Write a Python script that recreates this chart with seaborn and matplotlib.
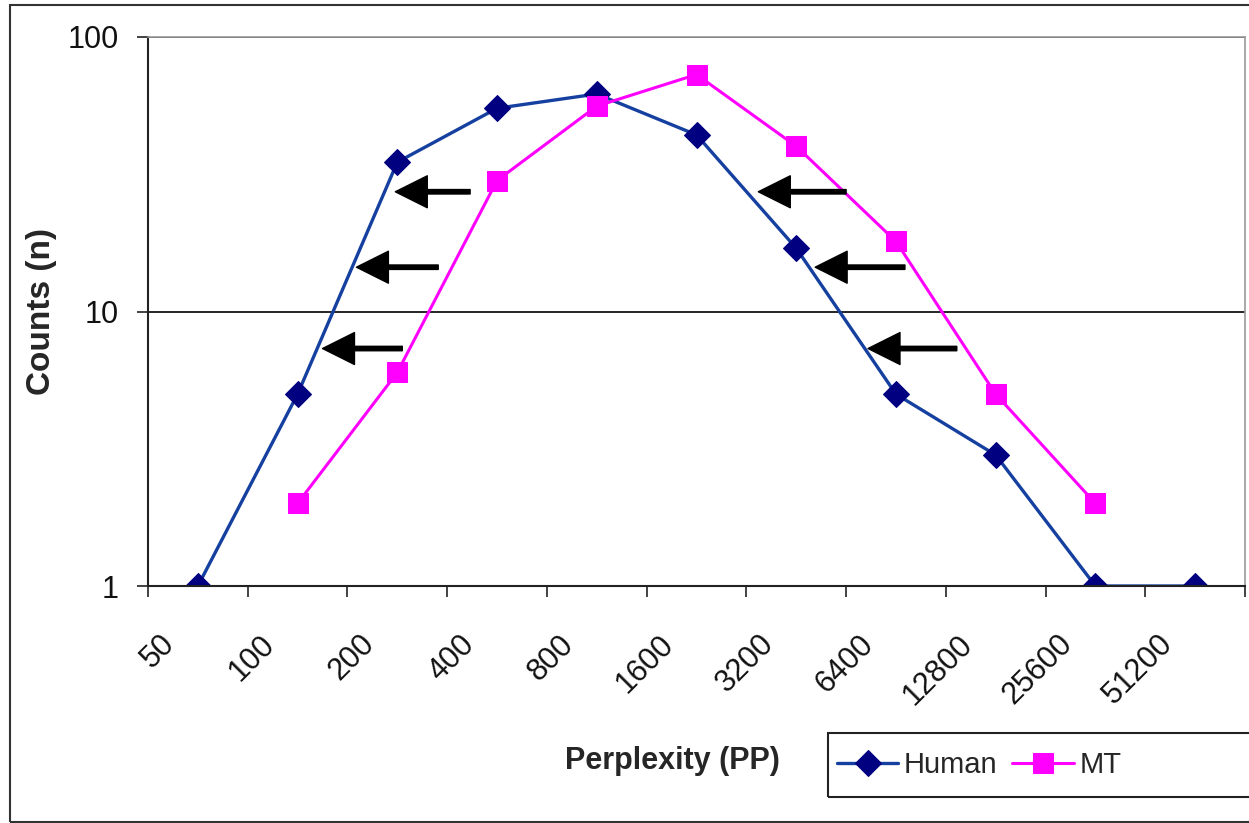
import numpy as np
import pandas as pd
import matplotlib
matplotlib.use("Agg")
import matplotlib.pyplot as plt
from matplotlib.patches import Rectangle
from matplotlib.transforms import ScaledTranslation
import seaborn as sns

# perplexity bins (category labels) and counts per bin
pp_labels = ["50", "100", "200", "400", "800", "1600", "3200",
             "6400", "12800", "25600", "51200"]
human_counts = [1, 5, 35, 55, 62, 44, 17, 5, 3, 1, 1]
mt_counts = [None, 2, 6, 30, 56, 73, 40, 18, 5, 2, None]

# arrows showing the shift (tail category, tip category, count level)
arrow_tails = [2.73, 2.41, 2.05, 6.50, 7.09, 7.61]
arrow_tips = [1.98, 1.59, 1.25, 5.62, 6.19, 6.72]
arrow_levels = [27.3, 14.5, 7.33, 27.3, 14.5, 7.33]

sns.set_style("white")
plt.rcParams["font.family"] = ["Liberation Sans", "DejaVu Sans"]

pos = np.arange(len(pp_labels))
df = pd.DataFrame({"pos": pos, "Human": human_counts, "MT": mt_counts})

fig = plt.figure(figsize=(12.49, 8.23), dpi=100)
ax = fig.add_axes([148 / 1249, 1 - 586 / 823, 1097 / 1249, 549 / 823])

sns.lineplot(data=df, x="pos", y="Human", ax=ax, color="#1540a0",
             marker="D", markersize=13, markerfacecolor="#000080",
             markeredgecolor="#000080", linewidth=2.4, label="Human")
mt = df.dropna(subset=["MT"])
sns.lineplot(data=mt, x="pos", y="MT", ax=ax, color="#FF00FF",
             marker="s", markersize=15, markeredgecolor="#FF00FF",
             linewidth=2.2, label="MT")

for t0, t1, lv in zip(arrow_tails, arrow_tips, arrow_levels):
    ax.annotate("", xy=(t1, lv), xytext=(t0, lv),
                arrowprops=dict(facecolor="black", edgecolor="black",
                                width=3.2, headwidth=23, headlength=23,
                                shrink=0))

ax.set_yscale("log")
ax.set_ylim(1, 100)
ax.set_yticks([1, 10, 100])
ax.set_yticklabels(["1", "10", "100"])
ax.yaxis.set_minor_locator(matplotlib.ticker.NullLocator())
ax.set_xlim(-0.5, len(pp_labels) - 0.5)
ax.set_xticks(pos)
ax.set_xticklabels(pp_labels, rotation=45, ha="right")
ax.set_xticks(np.arange(-0.5, len(pp_labels)), minor=True)

ax.grid(axis="y", which="major", color="black", linewidth=1.2)
ax.tick_params(axis="x", which="major", length=0, pad=31, labelsize=22,
               labelcolor="#111111")
ax.tick_params(axis="x", which="minor", length=8, width=1.2,
               direction="out", color="#222222", bottom=True)
ax.tick_params(axis="y", which="major", length=8, width=1.2,
               direction="out", color="#222222", left=True, pad=13,
               labelsize=22, labelcolor="#111111")
for lab in ax.get_xticklabels():
    lab.set_transform(lab.get_transform() +
                      ScaledTranslation(-12 / 72, 0, fig.dpi_scale_trans))

for side in ["left", "bottom"]:
    ax.spines[side].set_color("#222222")
    ax.spines[side].set_linewidth(1.5)
for side in ["top", "right"]:
    ax.spines[side].set_color("#9a9a9a")
    ax.spines[side].set_linewidth(1.2)

ax.set_xlabel("")
ax.set_ylabel("Counts (n)", fontsize=24, fontweight="bold")
ax.yaxis.set_label_coords(-0.083, 0.5)
fig.text(565 / 1249, 1 - 761 / 823, "Perplexity (PP)", fontsize=22,
         fontweight="bold", ha="left", va="center")

ax.legend(loc="center left", bbox_to_anchor=(837 / 1249, 1 - 765 / 823),
          bbox_transform=fig.transFigure, ncol=2, fontsize=21,
          frameon=False, borderpad=0, handlelength=2.1,
          handletextpad=0.2, columnspacing=0.5, borderaxespad=0)

# legend box (runs past the right edge like the source image)
fig.patches.append(Rectangle((828 / 1249, 1 - 797 / 823), 0.5, 64 / 823,
                             transform=fig.transFigure, fill=False,
                             edgecolor="#222222", linewidth=1.5))
# outer chart frame
fig.patches.append(Rectangle((10 / 1249, 1 / 823), 1.2, 1 - 6 / 823,
                             transform=fig.transFigure, fill=False,
                             edgecolor="#333333", linewidth=1.5))

fig.savefig("out.png", dpi=100)
